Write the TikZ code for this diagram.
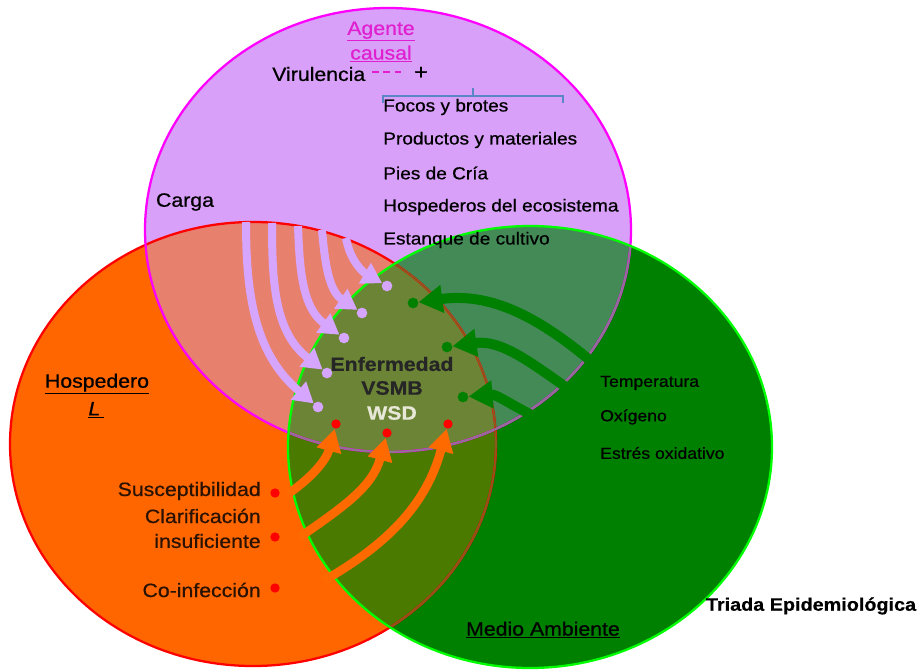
\documentclass[tikz,border=0pt]{standalone}
\usepackage{fontspec}
\setmainfont{Liberation Sans}[FakeStretch=1.1, FakeBold=0.6]
\usetikzlibrary{arrows.meta}
\definecolor{pinkF}{HTML}{D8A0F8}
\definecolor{orangeF}{HTML}{FF6600}
\definecolor{greenF}{HTML}{008000}
\definecolor{salmonF}{HTML}{E8806E}
\definecolor{pgF}{HTML}{438A56}
\definecolor{ogF}{HTML}{4A7A00}
\definecolor{pogF}{HTML}{6B8436}
\definecolor{magB}{HTML}{FF00FF}
\definecolor{redB}{HTML}{FF0000}
\definecolor{grnB}{HTML}{00FF00}
\definecolor{redIn}{HTML}{8A5A1E}
\definecolor{magIn}{HTML}{8A7890}
\definecolor{arrP}{HTML}{D6A6FF}
\definecolor{arrG}{HTML}{008000}
\definecolor{arrO}{HTML}{FF6A00}
\definecolor{magT}{HTML}{E020D0}
\definecolor{braceC}{HTML}{5B86C6}
\definecolor{hostT}{HTML}{2A1200}
\definecolor{wsdC}{HTML}{E8E8D8}
\tikzset{
  lab/.style={font=\fontsize{14.5}{18.5}\selectfont, inner sep=0pt, text=black},
  itemtxt/.style={font=\fontsize{13}{16}\selectfont, inner sep=0pt, anchor=west, text=black},
  envtxt/.style={font=\fontsize{12}{15}\selectfont, inner sep=0pt, anchor=west, text=black},
  hosttxt/.style={font=\fontsize{14.5}{18.5}\selectfont, inner sep=0pt, anchor=east, text=hostT},
  boldlab/.style={font=\bfseries\fontsize{14.5}{18}\selectfont, inner sep=0pt},
  pdot/.style={circle, fill=arrP, inner sep=0pt, minimum size=8pt},
  gdot/.style={circle, fill=arrG, inner sep=0pt, minimum size=8pt},
  rdot/.style={circle, fill=redB, inner sep=0pt, minimum size=7pt},
  parr/.style={draw=arrP, line width=6pt, -{Triangle[length=15pt, width=17pt]}},
  garr/.style={draw=arrG, line width=7.5pt, -{Triangle[length=18pt, width=20pt]}},
  oarr/.style={draw=arrO, line width=6.5pt, -{Triangle[length=17pt, width=18pt]}},
}
\def\PE{(388,-230) ellipse [x radius=243, y radius=222]}
\def\OE{(253,-444) ellipse [x radius=243, y radius=222]}
\def\GE{(530,-447) ellipse [x radius=242, y radius=221]}
\begin{document}
\begin{tikzpicture}[x=0.75pt,y=0.75pt]
\useasboundingbox (0,0) rectangle (923,-670);
\fill[white] (0,0) rectangle (923,-670);
% circles
\fill[orangeF] \OE;
\fill[pinkF] \PE;
\fill[greenF] \GE;
\begin{scope}
  \clip \OE;
  \fill[ogF] \GE;
\end{scope}
\begin{scope}
  \clip \PE;
  \fill[salmonF] \OE;
  \fill[pgF] \GE;
  \clip \OE;
  \fill[pogF] \GE;
\end{scope}
\draw[redB, line width=1.7pt] \OE;
\draw[magB, line width=1.7pt] \PE;
\begin{scope}
  \clip \GE;
  \draw[redIn, line width=1.2pt] \OE;
  \draw[magIn, line width=1.2pt] \PE;
\end{scope}
\draw[grnB, line width=1.7pt] \GE;

% purple arrows
\node[pdot] (pd1) at (318,-407) {};
\node[pdot] (pd2) at (327,-373) {};
\node[pdot] (pd3) at (344,-338) {};
\node[pdot] (pd4) at (362,-313) {};
\node[pdot] (pd5) at (387,-286) {};
\coordinate (ps1) at (246,-222);
\coordinate (ps2) at (272,-223);
\coordinate (ps3) at (298,-226);
\coordinate (ps4) at (322,-230);
\coordinate (ps5) at (346,-238);
\draw[parr] (ps1) to[out=-90, in=140] (pd1);
\draw[parr] (ps2) to[out=-90, in=142] (pd2);
\draw[parr] (ps3) to[out=-88, in=144] (pd3);
\draw[parr] (ps4) to[out=-85, in=146] (pd4);
\draw[parr] (ps5) to[out=-80, in=150] (pd5);

% green arrows
\node[gdot] (gd1) at (413,-303) {};
\node[gdot] (gd2) at (447,-347) {};
\node[gdot] (gd3) at (463,-397) {};
\coordinate (gs1) at (592,-362);
\coordinate (gs2) at (570,-390);
\coordinate (gs3) at (538,-418);
\draw[garr] (gs1) to[out=140, in=8] (gd1);
\draw[garr] (gs2) to[out=145, in=8] (gd2);
\draw[garr] (gs3) to[out=155, in=5] (gd3);

% orange arrows
\node[rdot] (od1) at (336,-424) {};
\node[rdot] (od2) at (387,-433) {};
\node[rdot] (od3) at (448,-424) {};
\coordinate (os1) at (288,-494);
\coordinate (os2) at (300,-537);
\coordinate (os3) at (325,-580);
\draw[oarr] (os1) to[out=35, in=-105] (od1);
\draw[oarr] (os2) to[out=35, in=-105] (od2);
\draw[oarr] (os3) to[out=30, in=-105] (od3);

% Agente causal
\node[lab, text=magT, align=center] (agente) at (381,-42) {\underline{Agente}\\\underline{causal}};
\node[lab, anchor=west] (viru) at (272,-74) {Virulencia};
\coordinate (da) at (372,-72);
\coordinate (db) at (405,-72);
\draw[magT, line width=1pt, dash pattern=on 5pt off 3.5pt] (da) -- (db);
\node[lab, font=\fontsize{16}{18}\selectfont] (plus) at (421,-73) {+};
\coordinate (b1) at (383,-103);
\coordinate (b2) at (383,-96);
\coordinate (b3) at (563,-96);
\coordinate (b4) at (563,-103);
\coordinate (bm1) at (473,-96);
\coordinate (bm2) at (473,-88);
\draw[braceC, line width=1.1pt] (b1) -- (b2) -- (b3) -- (b4);
\draw[braceC, line width=1.1pt] (bm1) -- (bm2);
\node[itemtxt] (l1) at (383,-107) {Focos y brotes};
\node[itemtxt] (l2) at (383,-140) {Productos y materiales};
\node[itemtxt] (l3) at (383,-173) {Pies de Cría};
\node[itemtxt] (l4) at (383,-207) {Hospederos del ecosistema};
\node[itemtxt] (l5) at (383,-240) {Estanque de cultivo};
\node[lab] (carga) at (185,-202) {Carga};

% centre
\node[boldlab, text=black!85] (enf) at (392,-364) {Enfermedad};
\node[boldlab, text=black!85] (vsmb) at (392,-388) {VSMB};
\node[boldlab, text=wsdC] (wsd) at (392,-413) {WSD};

% host
\node[lab] (hosp) at (97,-384) {\underline{Hospedero}};
\node[lab] (hl) at (96,-410) {\underline{\textit{L}\,}};
\node[hosttxt] (h1) at (261,-491) {Susceptibilidad};
\node[hosttxt] (h2) at (261,-516) {Clarificación};
\node[hosttxt] (h3) at (261,-541) {insuficiente};
\node[hosttxt] (h4) at (261,-590) {Co-infección};
\node[rdot] (hd1) at (275,-493) {};
\node[rdot] (hd2) at (275,-537) {};
\node[rdot] (hd3) at (275,-588) {};

% environment
\node[envtxt] (e1) at (600,-383) {Temperatura};
\node[envtxt] (e2) at (600,-417) {Oxígeno};
\node[envtxt] (e3) at (600,-453) {Estrés oxidativo};
\node[lab] (medio) at (543,-630) {\underline{Medio Ambiente}};
\node[font=\bfseries\fontsize{13.5}{16}\selectfont, inner sep=0pt] (triada) at (811,-606) {Triada Epidemiológica};
\end{tikzpicture}
\end{document}
